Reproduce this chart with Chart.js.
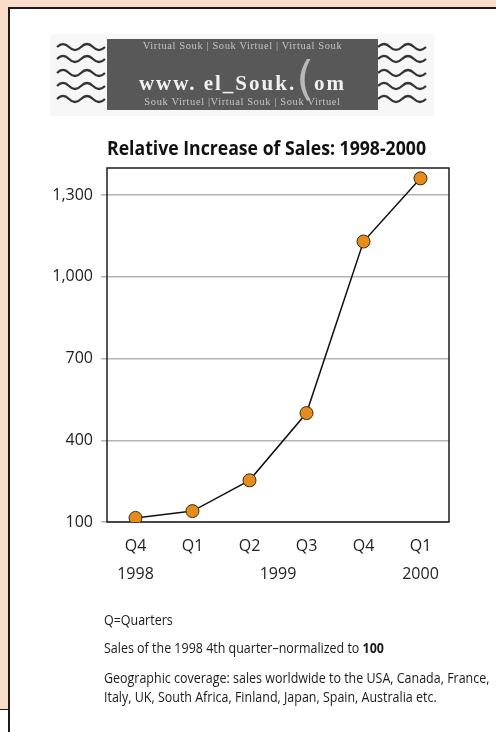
<!DOCTYPE html>
<html>
<head>
<meta charset="utf-8">
<script src="https://cdn.jsdelivr.net/npm/chart.js@4.4.0/dist/chart.umd.min.js"></script>
<style>
  html, body { margin: 0; padding: 0; }
  body {
    width: 496px; height: 732px; position: relative; overflow: hidden;
    background: #fff;
    font-family: 'Open Sans', 'Noto Sans', sans-serif;
  }
  .peach { position: absolute; background: #f9dcc9; }
  .rule { position: absolute; background: #1a1a1a; }

  #logo { position: absolute; left: 50px; top: 34px; width: 384px; height: 82px; background: #f7f7f7; filter: blur(0.5px); }
  #plate {
    position: absolute; left: 57px; top: 5px; width: 271px; height: 71px;
    background: #585858; color: #d4d4d4; text-align: center; overflow: hidden;
  }
  #plate .small { font-family: 'Liberation Serif', serif; font-size: 10.5px; line-height: 12px; letter-spacing: 0.6px; color: #c4c4c4; }
  #plate .top { position: absolute; left: 0; right: 0; top: 1px; }
  #plate .bot { position: absolute; left: 0; right: 0; bottom: 2px; }
  #plate .big {
    position: absolute; left: 0; right: 0; top: 19px; line-height: 32px;
    font-family: 'Liberation Serif', serif; font-weight: bold; font-size: 21px; letter-spacing: 2px; color: #f0f0f0;
  }
  #plate .moon { font-family: 'DejaVu Sans', sans-serif; font-weight: normal; font-size: 46px; color: #b8b8b8; position: relative; top: 4px; letter-spacing: 0; }
  #logo svg { position: absolute; top: 0; }

  #title {
    position: absolute; left: 107px; top: 136px; white-space: nowrap;
    font-size: 20px; line-height: 24px; font-weight: bold; color: #111;
    transform-origin: 0 0; display: inline-block;
  }

  #notes { position: absolute; left: 104px; top: 0; font-size: 14.5px; color: #1a1a1a; transform: scaleX(0.86); transform-origin: 0 0; }
  #notes div { position: absolute; left: 0; white-space: nowrap; line-height: 18px; }

  #chart { position: absolute; left: 36px; top: 130px; }
</style>
</head>
<body>
<div class="peach" style="left:0;top:0;width:496px;height:7px;"></div>
<div class="peach" style="left:0;top:0;width:8px;height:709px;"></div>
<div class="rule" style="left:8px;top:7px;width:488px;height:2px;"></div>
<div class="rule" style="left:8px;top:7px;width:2px;height:725px;"></div>
<div class="rule" style="left:0;top:709px;width:9px;height:1px;"></div>

<div id="logo">
  <svg width="60" height="82" style="left:2px">
    <g fill="none" stroke="#333" stroke-width="2.2">
      <path d="M5,13 q6,-6 12,0 t12,0 t12,0 t12,0"/>
      <path d="M5,25 q6,-6 12,0 t12,0 t12,0 t12,0"/>
      <path d="M5,39 q6,-6 12,0 t12,0 t12,0 t12,0"/>
      <path d="M5,52 q6,-6 12,0 t12,0 t12,0 t12,0"/>
      <path d="M5,65 q6,-6 12,0 t12,0 t12,0 t12,0"/>
    </g>
  </svg>
  <div id="plate">
    <div class="small top">Virtual Souk | Souk Virtuel | Virtual Souk</div>
    <div class="big">www. el_Souk.<span class="moon">(</span>om</div>
    <div class="small bot">Souk Virtuel |Virtual Souk | Souk Virtuel</div>
  </div>
  <svg width="60" height="82" style="left:328px">
    <g fill="none" stroke="#333" stroke-width="2.2">
      <path d="M0,13 q6,-6 12,0 t12,0 t12,0 t12,0"/>
      <path d="M0,25 q6,-6 12,0 t12,0 t12,0 t12,0"/>
      <path d="M0,39 q6,-6 12,0 t12,0 t12,0 t12,0"/>
      <path d="M0,52 q6,-6 12,0 t12,0 t12,0 t12,0"/>
      <path d="M0,65 q6,-6 12,0 t12,0 t12,0 t12,0"/>
    </g>
  </svg>
</div>

<div id="title">Relative Increase of Sales: 1998-2000</div>

<canvas id="chart" width="460" height="470"></canvas>

<div id="notes">
  <div style="top:611px">Q=Quarters</div>
  <div style="top:639px">Sales of the 1998 4th quarter&ndash;normalized to <b>100</b></div>
  <div style="top:669px">Geographic coverage: sales worldwide to the USA, Canada, France,</div>
  <div style="top:688px">Italy, UK, South Africa, Finland, Japan, Spain, Australia etc.</div>
</div>

<script>
// Datos del gráfico
const quarters = ['Q4', 'Q1', 'Q2', 'Q3', 'Q4', 'Q1'];
const years = ['1998', '1999', '1999', '1999', '1999', '2000'];
const sales = [115, 140, 253, 500, 1130, 1362];
const yTicks = [100, 400, 700, 1000, 1300];
const yMin = 100;
const yMax = 1400;

const tickFont = "'Open Sans', 'Noto Sans', sans-serif";

// Título estrecho: ajustar al ancho del original
const title = document.getElementById('title');
title.style.transform = 'scaleX(' + (319 / title.getBoundingClientRect().width) + ')';

// Marco negro alrededor del área del gráfico
const frame = {
    id: 'frame',
    beforeDatasetsDraw(chart) {
        const { ctx, chartArea: a } = chart;
        ctx.save();
        ctx.strokeStyle = '#1c1c1c';
        ctx.lineWidth = 1.5;
        ctx.strokeRect(a.left, a.top, a.right - a.left, a.bottom - a.top);
        ctx.restore();
    }
};

// Años debajo de los trimestres, centrados en su grupo
const yearLabels = {
    id: 'yearLabels',
    afterDraw(chart) {
        const { ctx, chartArea } = chart;
        const x = chart.scales.x;
        const groups = {};
        years.forEach((y, i) => { (groups[y] = groups[y] || []).push(i); });
        ctx.save();
        ctx.font = '16px ' + tickFont;
        ctx.fillStyle = '#222';
        ctx.textAlign = 'center';
        ctx.textBaseline = 'middle';
        Object.keys(groups).forEach(y => {
            const idx = groups[y];
            const cx = (x.getPixelForValue(idx[0]) + x.getPixelForValue(idx[idx.length - 1])) / 2;
            ctx.fillText(y, cx, chartArea.bottom + 52);
        });
        ctx.restore();
    }
};

const ctx = document.getElementById('chart').getContext('2d');
const chart = new Chart(ctx, {
    type: 'line',
    data: {
        labels: quarters,
        datasets: [{
            label: 'Sales',
            data: sales,
            borderColor: '#111',
            borderWidth: 1.5,
            tension: 0,
            pointRadius: 6.5,
            pointBackgroundColor: '#e58c1c',
            pointBorderColor: '#3a2a12',
            pointBorderWidth: 1
        }]
    },
    options: {
        responsive: false,
        animation: false,
        layout: { padding: { left: 0, right: 47, top: 38, bottom: 0 } },
        plugins: {
            legend: { display: false },
            tooltip: { enabled: false },
            title: { display: false }
        },
        scales: {
            x: {
                offset: true,
                grid: { display: false, drawTicks: false },
                border: { display: false },
                ticks: { color: '#222', font: { family: tickFont, size: 16 }, padding: 15, maxRotation: 0, autoSkip: false },
                afterFit(scale) { scale.height = 78; }
            },
            y: {
                min: yMin,
                max: yMax,
                afterBuildTicks(scale) { scale.ticks = yTicks.map(v => ({ value: v })); },
                grid: { color: '#b3b3b3', lineWidth: 1.5, tickLength: 6 },
                border: { display: false },
                ticks: {
                    color: '#222',
                    font: { family: tickFont, size: 16 },
                    padding: 8,
                    callback: v => v.toLocaleString('en-US')
                },
                afterFit(scale) { scale.width = 71; }
            }
        }
    },
    plugins: [frame, yearLabels]
});
</script>
</body>
</html>
